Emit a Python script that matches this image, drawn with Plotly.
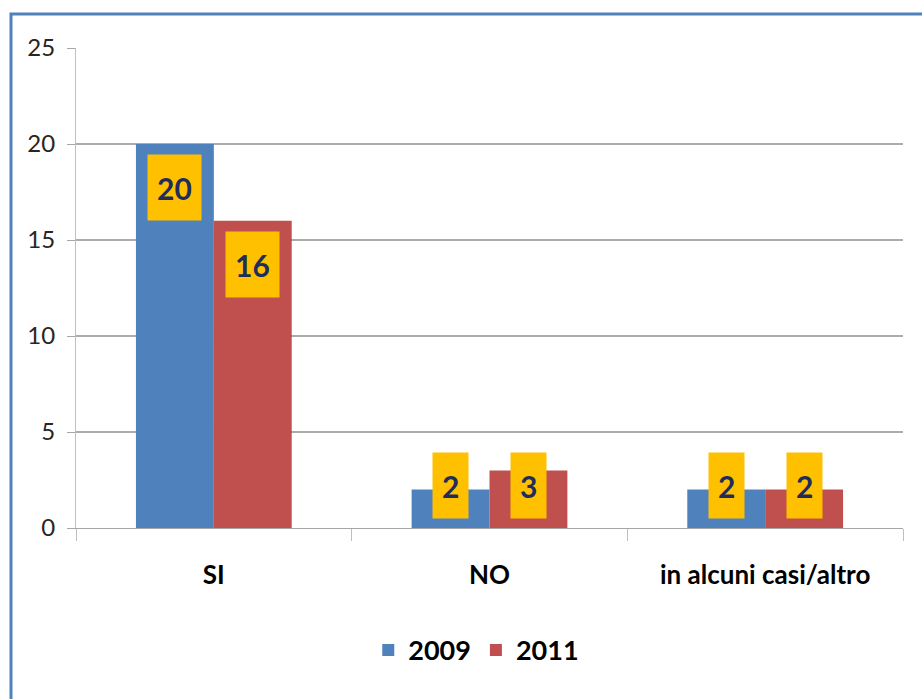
import plotly.graph_objects as go

categories = ["SI", "NO", "in alcuni casi/altro"]
series_names = ["2009", "2011"]
values_2009 = [20, 2, 2]
values_2011 = [16, 3, 2]
y_ticks = [0, 5, 10, 15, 20, 25]

colors = {"2009": "#4F81BD", "2011": "#C0504D"}
FONT = "Lato, 'Open Sans', sans-serif"

fig = go.Figure()
for name, vals in zip(series_names, [values_2009, values_2011]):
    fig.add_trace(go.Bar(
        x=categories, y=vals, name=f"<b>{name}</b>",
        marker=dict(color=colors[name], line=dict(width=0)),
        offsetgroup=name,
    ))

# data labels (yellow boxes)
n = len(series_names)
bargap = 0.435
group_w = 1 - bargap
bar_w = group_w / n
annotations = []
for si, vals in enumerate([values_2009, values_2011]):
    for ci, v in enumerate(vals):
        xoff = -group_w / 2 + bar_w * (si + 0.5)
        ly = max(v - 2.25, 2.2)
        annotations.append(dict(
            x=ci + xoff, y=ly, xref="x", yref="y",
            text=f"<b>{v}</b>", showarrow=False,
            font=dict(family=FONT, size=30, color="#1F2D5C"),
            bgcolor="#FFC000", borderpad=9, height=47,
            xanchor="center", yanchor="middle",
        ))

fig.update_layout(
    width=922, height=699,
    margin=dict(l=76, r=19, t=48, b=171),
    paper_bgcolor="white", plot_bgcolor="white",
    barmode="group", bargap=bargap, bargroupgap=0,
    font=dict(family=FONT, color="#262626"),
    showlegend=True,
    legend=dict(orientation="h", x=0.484, xanchor="center", y=-0.255, yanchor="middle",
                font=dict(size=27, family=FONT, color="#000000"),
                itemwidth=30, traceorder="normal"),
    annotations=annotations,
    shapes=[dict(type="rect", xref="paper", yref="paper",
                 x0=(11 - 76) / 827, x1=1.2, y0=-0.5, y1=(528 - 14) / 480,
                 line=dict(color="#4F81BD", width=3), fillcolor="rgba(0,0,0,0)", layer="below")],
)

fig.update_xaxes(
    type="category", categoryorder="array", categoryarray=categories,
    showline=True, linecolor="#A6A6A6", linewidth=1,
    ticks="outside", tickson="boundaries", ticklen=12, tickcolor="#BFBFBF",
    tickfont=dict(size=26, family=FONT, color="#000000"),
    ticktext=[f"<b>{c}</b>" for c in categories], tickvals=categories,
    ticklabelstandoff=24,
    showgrid=False, range=[-0.5, 2.5],
)
fig.update_yaxes(
    range=[0, 25], tickvals=y_ticks,
    showgrid=True, gridcolor="#ABABAB", gridwidth=1.5,
    showline=True, linecolor="#BFBFBF", linewidth=1,
    ticks="outside", ticklen=8, tickcolor="#A6A6A6",
    tickfont=dict(size=24, family=FONT, color="#262626"),
    ticklabelstandoff=7, zeroline=False,
)

fig.write_html("out.html")
